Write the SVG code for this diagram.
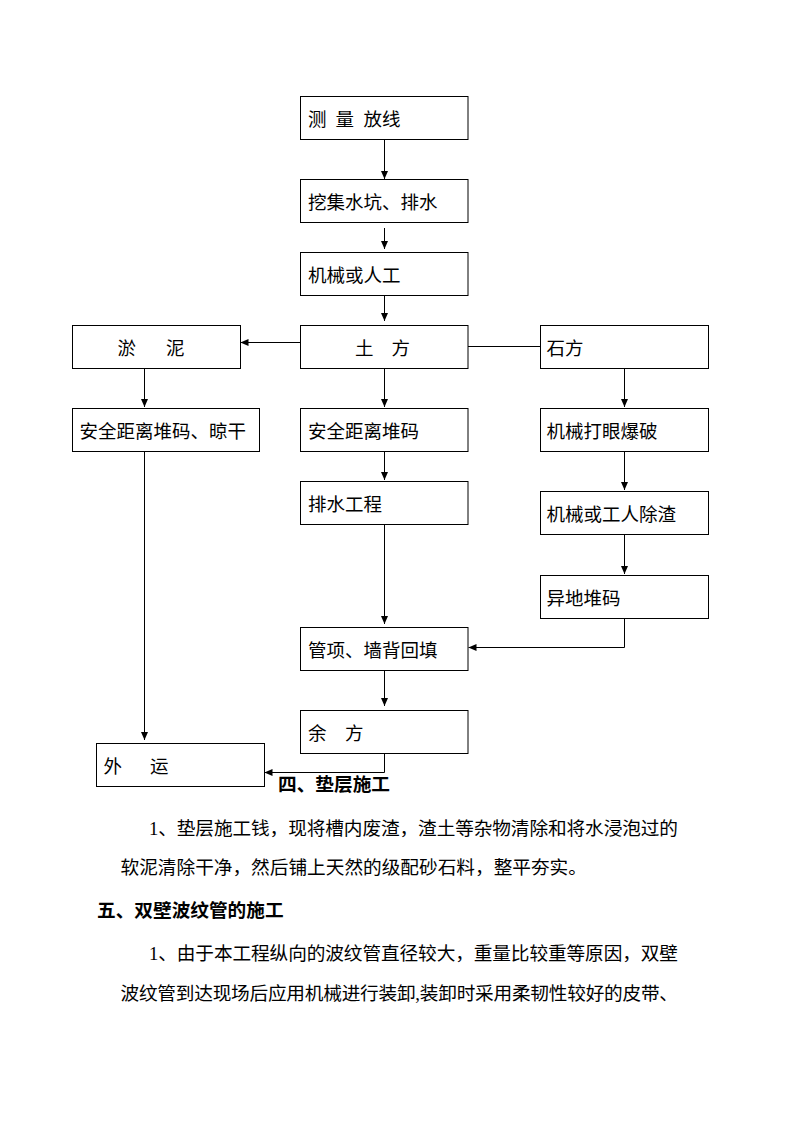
<svg xmlns="http://www.w3.org/2000/svg" width="794" height="1123" viewBox="0 0 794 1123">
<style>
.box{fill:#fff;stroke:#000;stroke-width:1}
.lbl{font-family:"Liberation Serif","Noto Sans CJK SC",serif;font-size:18.5px;fill:#000}
.txt{font-family:"Liberation Serif","Noto Sans CJK SC",serif;font-size:18.67px;fill:#000}
.hd{font-family:"Liberation Serif","Noto Sans CJK SC",serif;font-size:18.67px;font-weight:bold;fill:#000}
.ln{fill:none;stroke:#000;stroke-width:1}
.ar{marker-end:url(#ah)}
</style>
<defs>
<marker id="ah" markerUnits="userSpaceOnUse" markerWidth="8" markerHeight="7" refX="8" refY="3.5" orient="auto">
<path d="M0,0 L8,3.5 L0,7 z" fill="#000"/>
</marker>
</defs>
<rect width="794" height="1123" fill="#fff"/>

<g id="connectors">
<line class="ln ar" x1="384.5" y1="139" x2="384.5" y2="179"/>
<line class="ln ar" x1="384.5" y1="228" x2="384.5" y2="249"/>
<line class="ln ar" x1="384.5" y1="295" x2="384.5" y2="321"/>
<line class="ln ar" x1="300" y1="342.5" x2="240.5" y2="342.5"/>
<line class="ln" x1="468" y1="346.5" x2="540.5" y2="346.5"/>
<line class="ln ar" x1="144.5" y1="368" x2="144.5" y2="407"/>
<line class="ln ar" x1="384.5" y1="368" x2="384.5" y2="407"/>
<line class="ln ar" x1="624.5" y1="368" x2="624.5" y2="407"/>
<line class="ln ar" x1="384.5" y1="451" x2="384.5" y2="480"/>
<line class="ln ar" x1="624.5" y1="451" x2="624.5" y2="490"/>
<line class="ln ar" x1="624.5" y1="534" x2="624.5" y2="574"/>
<line class="ln ar" x1="384.5" y1="522" x2="384.5" y2="624"/>
<polyline class="ln ar" points="624.5,616 624.5,647.5 468.5,647.5"/>
<line class="ln ar" x1="384.5" y1="665" x2="384.5" y2="706"/>
<line class="ln ar" x1="144.5" y1="451" x2="144.5" y2="740"/>
<polyline class="ln ar" points="384.5,751 384.5,772.5 264.5,772.5"/>
</g>

<g id="n1"><rect class="box" x="300.5" y="96.5" width="167.5" height="43"/><text class="lbl" y="126"><tspan x="308">测</tspan><tspan x="335.5">量</tspan><tspan x="363.5">放线</tspan></text></g>
<g id="n2"><rect class="box" x="300.5" y="179.5" width="167.5" height="43"/><text class="lbl" x="308" y="209">挖集水坑、排水</text></g>
<g id="n3"><rect class="box" x="300.5" y="252.5" width="167.5" height="43"/><text class="lbl" x="308" y="282">机械或人工</text></g>
<g id="n4"><rect class="box" x="72.5" y="325.5" width="168" height="43"/><text class="lbl" y="355"><tspan x="117.5">淤</tspan><tspan x="166">泥</tspan></text></g>
<g id="n5"><rect class="box" x="300.5" y="325.5" width="167.5" height="43"/><text class="lbl" y="355"><tspan x="355">土</tspan><tspan x="391.5">方</tspan></text></g>
<g id="n6"><rect class="box" x="540.5" y="325.5" width="168" height="43"/><text class="lbl" x="546.5" y="355">石方</text></g>
<g id="n7"><rect class="box" x="72.5" y="408.5" width="187" height="43"/><text class="lbl" x="79.5" y="438">安全距离堆码、晾干</text></g>
<g id="n8"><rect class="box" x="300.5" y="408.5" width="167.5" height="43"/><text class="lbl" x="308" y="438">安全距离堆码</text></g>
<g id="n9"><rect class="box" x="540.5" y="408.5" width="168" height="43"/><text class="lbl" x="546.5" y="438">机械打眼爆破</text></g>
<g id="n10"><rect class="box" x="300.5" y="481.5" width="167.5" height="43"/><text class="lbl" x="308" y="511">排水工程</text></g>
<g id="n11"><rect class="box" x="540.5" y="491.5" width="168" height="43"/><text class="lbl" x="546.5" y="521">机械或工人除渣</text></g>
<g id="n12"><rect class="box" x="540.5" y="575.5" width="168" height="43"/><text class="lbl" x="546.5" y="605">异地堆码</text></g>
<g id="n13"><rect class="box" x="300.5" y="627.5" width="167.5" height="43"/><text class="lbl" x="308" y="657">管项、墙背回填</text></g>
<g id="n14"><rect class="box" x="300.5" y="710.5" width="167.5" height="43"/><text class="lbl" y="740"><tspan x="308">余</tspan><tspan x="345">方</tspan></text></g>
<g id="n15"><rect class="box" x="96.5" y="743.5" width="168" height="43"/><text class="lbl" y="773"><tspan x="103.5">外</tspan><tspan x="150">运</tspan></text></g>

<g id="body">
<text class="hd" x="278" y="791">四、垫层施工</text>
<text class="txt" x="149" y="834.5" textLength="529" lengthAdjust="spacing">1、垫层施工钱，现将槽内废渣，渣土等杂物清除和将水浸泡过的</text>
<text class="txt" x="120.5" y="873.5">软泥清除干净，然后铺上天然的级配砂石料，整平夯实。</text>
<text class="hd" x="97" y="917">五、双壁波纹管的施工</text>
<text class="txt" x="149" y="959.5" textLength="529" lengthAdjust="spacing">1、由于本工程纵向的波纹管直径较大，重量比较重等原因，双壁</text>
<text class="txt" x="120.5" y="1000" textLength="557.5" lengthAdjust="spacing">波纹管到达现场后应用机械进行装卸,装卸时采用柔韧性较好的皮带、</text>
</g>
</svg>
